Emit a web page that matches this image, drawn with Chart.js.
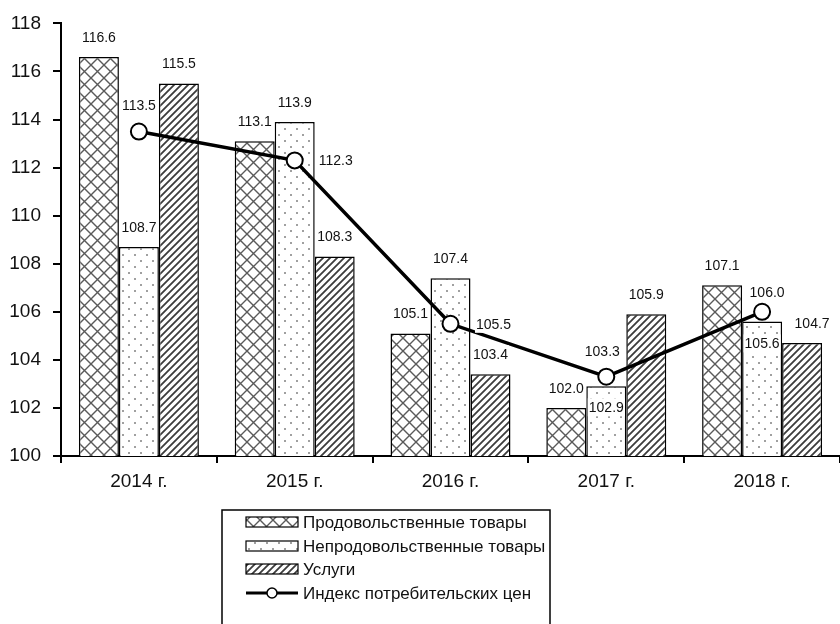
<!DOCTYPE html>
<html lang="ru">
<head>
<meta charset="utf-8">
<title>Индексы потребительских цен</title>
<script src="https://cdn.jsdelivr.net/npm/chart.js@4.4.1/dist/chart.umd.min.js"></script>
<style>
  html, body { margin: 0; padding: 0; background: #fff; }
  #wrap { width: 840px; height: 624px; position: relative; }
</style>
</head>
<body>
<div id="wrap"><canvas id="graficoIndices"></canvas></div>
<script>
// Годы и значения (в % к предыдущему году)
const years = ['2014 г.', '2015 г.', '2016 г.', '2017 г.', '2018 г.'];
const foodValues = [116.6, 113.1, 105.1, 102.0, 107.1];
const nonFoodValues = [108.7, 113.9, 107.4, 102.9, 105.6];
const serviceValues = [115.5, 108.3, 103.4, 105.9, 104.7];
const cpiValues = [113.5, 112.3, 105.5, 103.3, 106.0];
const yMin = 100;
const yMax = 118;
const yStep = 2;

const FONT = "'Liberation Sans', Arial, sans-serif";

// штриховки для столбцов
function makePattern(size, draw) {
  const c = document.createElement('canvas');
  c.width = size; c.height = size;
  const g = c.getContext('2d');
  g.fillStyle = '#fff';
  g.fillRect(0, 0, size, size);
  draw(g, size);
  return g.createPattern(c, 'repeat');
}

const ctx = document.getElementById('graficoIndices').getContext('2d');

const crossPattern = makePattern(13, function (g, s) {
  g.strokeStyle = '#5a5a5a';
  g.lineWidth = 1.4;
  g.beginPath();
  g.moveTo(0, 0); g.lineTo(s, s);
  g.moveTo(s, 0); g.lineTo(0, s);
  g.stroke();
});

const dotPattern = makePattern(12, function (g) {
  g.fillStyle = '#a0a0a0';
  g.fillRect(2, 2, 2, 2);
  g.fillRect(8, 8, 2, 2);
});

const stripePattern = makePattern(7, function (g, s) {
  g.strokeStyle = '#3c3c3c';
  g.lineWidth = 1.8;
  g.beginPath();
  g.moveTo(-1, s + 1); g.lineTo(s + 1, -1);
  g.moveTo(-1, 1); g.lineTo(1, -1);
  g.moveTo(s - 1, s + 1); g.lineTo(s + 1, s - 1);
  g.stroke();
});

// сдвиги подписей [dx, dy] относительно стандартного положения
const labelShift = [
  [[0, 0], [0, 0], [0, 0], [0, 0], [0, 0]],
  [[0, 0], [0, 0], [0, 0], [0, 41], [0, 42]],
  [[0, 0], [0, 0], [0, 0], [0, 0], [10, 0]],
  [[0, -26], [41, 0], [43, 0], [-4, -26], [5, -20]]
];

const valueLabels = {
  id: 'valueLabels',
  afterDatasetsDraw(chart) {
    const c = chart.ctx;
    c.save();
    c.font = '14px ' + FONT;
    c.textAlign = 'center';
    c.textBaseline = 'middle';
    chart.data.datasets.forEach(function (ds, di) {
      const meta = chart.getDatasetMeta(di);
      meta.data.forEach(function (el, i) {
        const txt = ds.data[i].toFixed(1);
        const sh = labelShift[di][i];
        let x = el.x + sh[0];
        let y = (ds.type === 'line' ? el.y : el.y - 20) + sh[1];
        const w = c.measureText(txt).width;
        c.fillStyle = '#fff';
        c.fillRect(x - w / 2 - 1, y - 9, w + 2, 18);
        c.fillStyle = '#111';
        c.fillText(txt, x, y + 1);
      });
    });
    c.restore();
  }
};

// легенда в рамке под графиком
const boxLegend = {
  id: 'boxLegend',
  afterDraw(chart) {
    const c = chart.ctx;
    c.save();
    c.strokeStyle = '#000';
    c.lineWidth = 1.5;
    c.strokeRect(222, 510, 328, 130);
    c.font = '17px ' + FONT;
    c.textAlign = 'left';
    c.textBaseline = 'middle';
    const rows = [522, 546, 569, 593];
    chart.data.datasets.forEach(function (ds, i) {
      const y = rows[i];
      if (ds.type === 'line') {
        c.strokeStyle = '#000';
        c.lineWidth = 3;
        c.beginPath();
        c.moveTo(246, y); c.lineTo(298, y);
        c.stroke();
        c.beginPath();
        c.arc(272, y, 5, 0, Math.PI * 2);
        c.fillStyle = '#fff';
        c.fill();
        c.lineWidth = 1.5;
        c.stroke();
      } else {
        c.fillStyle = ds.backgroundColor;
        c.fillRect(246, y - 5, 52, 10);
        c.strokeStyle = '#000';
        c.lineWidth = 1.2;
        c.strokeRect(246, y - 5, 52, 10);
      }
      c.fillStyle = '#111';
      c.fillText(ds.label, 303, y + 1);
    });
    c.restore();
  }
};

const barStyle = {
  borderColor: '#000',
  borderWidth: 1.5,
  categoryPercentage: 0.77,
  barPercentage: 1,
  order: 1
};

new Chart(ctx, {
  type: 'bar',
  data: {
    labels: years,
    datasets: [
      Object.assign({ type: 'bar', label: 'Продовольственные товары', data: foodValues, backgroundColor: crossPattern }, barStyle),
      Object.assign({ type: 'bar', label: 'Непродовольственные товары', data: nonFoodValues, backgroundColor: dotPattern }, barStyle),
      Object.assign({ type: 'bar', label: 'Услуги', data: serviceValues, backgroundColor: stripePattern }, barStyle),
      {
        type: 'line',
        label: 'Индекс потребительских цен',
        data: cpiValues,
        borderColor: '#000',
        borderWidth: 3.5,
        backgroundColor: '#fff',
        pointBackgroundColor: '#fff',
        pointBorderColor: '#000',
        pointBorderWidth: 2,
        pointRadius: 8,
        tension: 0,
        order: 0
      }
    ]
  },
  options: {
    responsive: true,
    maintainAspectRatio: false,
    animation: false,
    layout: { autoPadding: false, padding: { top: 19, right: 0, bottom: 0, left: 0 } },
    scales: {
      x: {
        grid: { display: true, drawOnChartArea: false, color: '#000', lineWidth: 2, tickLength: 7, offset: true },
        border: { display: true, color: '#000', width: 2 },
        ticks: { color: '#111', font: { family: FONT, size: 19 }, padding: 7 },
        afterFit(scale) {
          scale.height = 168;
          scale.paddingLeft = 0;
          scale.paddingRight = 0;
        }
      },
      y: {
        min: yMin,
        max: yMax,
        grid: { display: true, drawOnChartArea: false, color: '#000', lineWidth: 2, tickLength: 8 },
        border: { display: true, color: '#000', width: 2 },
        ticks: { stepSize: yStep, color: '#111', font: { family: FONT, size: 19 }, padding: 12 },
        afterFit(scale) { scale.width = 61; }
      }
    },
    plugins: {
      legend: { display: false },
      tooltip: { enabled: false }
    }
  },
  plugins: [valueLabels, boxLegend]
});
</script>
</body>
</html>
